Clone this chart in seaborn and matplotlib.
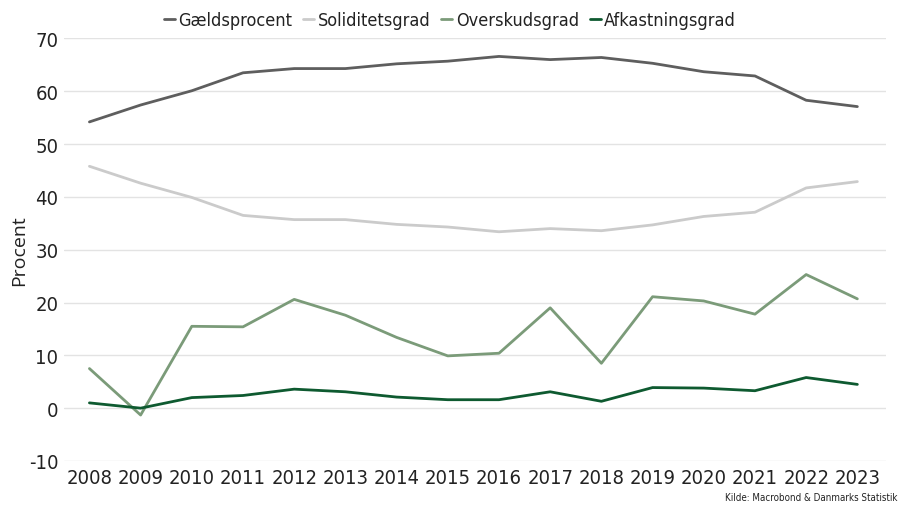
import numpy as np
import pandas as pd
import matplotlib
matplotlib.use("Agg")
import matplotlib.pyplot as plt
import seaborn as sns

# data
years = list(range(2008, 2024))
gaeld = [54.2, 57.4, 60.1, 63.5, 64.3, 64.3, 65.2, 65.7, 66.6, 66.0, 66.4, 65.3, 63.7, 62.9, 58.3, 57.1]
solid = [45.8, 42.6, 39.9, 36.5, 35.7, 35.7, 34.8, 34.3, 33.4, 34.0, 33.6, 34.7, 36.3, 37.1, 41.7, 42.9]
overskud = [7.5, -1.3, 15.5, 15.4, 20.6, 17.6, 13.4, 9.9, 10.4, 19.0, 8.5, 21.1, 20.3, 17.8, 25.3, 20.7]
afkast = [1.0, 0.0, 2.0, 2.4, 3.6, 3.1, 2.1, 1.6, 1.6, 3.1, 1.3, 3.9, 3.8, 3.3, 5.8, 4.5]
series_names = ["Gældsprocent", "Soliditetsgrad", "Overskudsgrad", "Afkastningsgrad"]
colors = ["#5e5e5e", "#cbcbcb", "#7b9b79", "#0e5a30"]

df = pd.DataFrame({"år": years, series_names[0]: gaeld, series_names[1]: solid,
                   series_names[2]: overskud, series_names[3]: afkast})
long = df.melt(id_vars="år", var_name="serie", value_name="værdi")

sns.set_theme(style="white")
plt.rcParams["font.family"] = ["DejaVu Sans"]
plt.rcParams["font.stretch"] = "condensed"
plt.rcParams["axes.unicode_minus"] = False

fig, ax = plt.subplots(figsize=(8.99, 5.06), dpi=100)
fig.subplots_adjust(left=0.071, right=0.985, top=0.922, bottom=0.087)

sns.lineplot(data=long, x="år", y="værdi", hue="serie", hue_order=series_names,
             palette=dict(zip(series_names, colors)), lw=2, ax=ax, legend=True)

ax.set_xlim(2007.5, 2023.55)
ax.set_ylim(-10, 70)
ax.set_yticks(range(-10, 71, 10))
ax.set_xticks(years)
ax.yaxis.grid(True, color="#e3e3e3", lw=1)
ax.xaxis.grid(False)
for s in ax.spines.values():
    s.set_visible(False)
ax.tick_params(axis="both", length=0, labelsize=14.5, colors="#222222")
ax.tick_params(axis="y", pad=4)
ax.tick_params(axis="x", pad=5)
ax.set_xlabel("")
ax.set_ylabel("Procent", fontsize=14, family=["Open Sans", "DejaVu Sans"],
              fontstretch="normal", color="#222222")
ax.yaxis.set_label_coords(-0.043, 0.5)

leg = ax.legend(loc="lower center", bbox_to_anchor=(0.47, 1.005), ncol=4, frameon=False,
                fontsize=13, handlelength=0.6, handletextpad=0.2, columnspacing=0.6,
                borderaxespad=0)
for t in leg.get_texts():
    t.set_color("#222222")

fig.text(0.998, 0.006, "Kilde: Macrobond & Danmarks Statistik", ha="right", va="bottom",
         fontsize=7, color="#222222")

fig.savefig("out.png", dpi=100)
